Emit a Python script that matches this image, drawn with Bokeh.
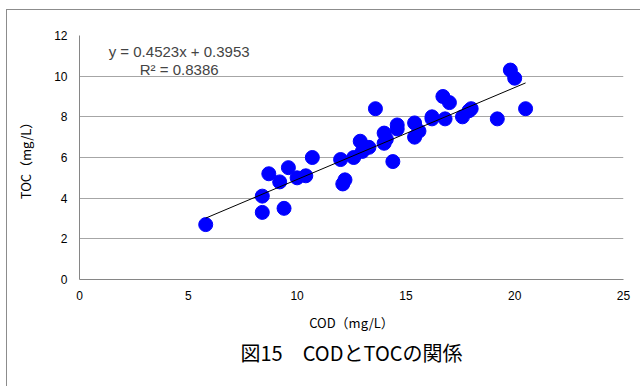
from bokeh.plotting import figure
from bokeh.models import ColumnDataSource, Label, Title, FixedTicker, Range1d
from bokeh.embed import file_html
from bokeh.resources import INLINE

# COD (mg/L) vs TOC (mg/L)
cod = [5.8, 8.4, 8.4, 9.4, 8.7, 9.2, 9.6, 10.0, 10.4, 10.7,
       12.0, 12.1, 12.2, 12.6, 12.9, 13.0, 13.3, 13.6, 14.0, 14.0,
       14.1, 14.4, 14.6, 14.6, 15.4, 15.4, 15.6, 16.2, 16.2, 16.7,
       17.0, 16.8, 17.6, 17.9, 18.0, 19.2, 19.8, 20.0, 20.5]
toc = [2.7, 4.1, 3.3, 3.5, 5.2, 4.8, 5.5, 5.0, 5.1, 6.0,
       5.9, 4.7, 4.9, 6.0, 6.8, 6.3, 6.5, 8.4, 7.2, 6.7,
       6.9, 5.8, 7.6, 7.4, 7.7, 7.0, 7.3, 7.9, 8.0, 9.0,
       8.7, 7.9, 8.0, 8.3, 8.4, 7.9, 10.3, 9.9, 8.4]

slope = 0.4523
intercept = 0.3953
r2 = 0.8386

x_ticks = [0, 5, 10, 15, 20, 25]
y_ticks = [0, 2, 4, 6, 8, 10, 12]

title_text = "図15　CODとTOCの関係"
x_label = "COD（mg/L）"
y_label = "TOC（mg/L）"

JP = "Noto Sans CJK JP"
LAT = "Liberation Sans"

p = figure(width=634, height=377, output_backend="svg", toolbar_location=None,
           x_range=Range1d(0, 25), y_range=Range1d(0, 12),
           min_border_left=72, min_border_right=18, min_border_top=25, min_border_bottom=108)
p.margin = (9, 0, 0, 6)
p.styles = {"border-left": "1px solid #8c8c8c", "border-top": "1px solid #8c8c8c"}
p.outline_line_color = None
p.background_fill_color = "white"
p.border_fill_color = "white"

src = ColumnDataSource(dict(x=cod, y=toc))
p.scatter("x", "y", source=src, size=14, color="#0000FF")

xs = [min(cod), max(cod)]
ys = [slope * v + intercept for v in xs]
p.line(xs, ys, line_color="black", line_width=1)

# axes
p.xaxis.ticker = FixedTicker(ticks=x_ticks)
p.yaxis.ticker = FixedTicker(ticks=y_ticks)
for ax in (p.xaxis[0], p.yaxis[0]):
    ax.major_tick_in = 0
    ax.major_tick_out = 0
    ax.minor_tick_in = 0
    ax.minor_tick_out = 0
    ax.major_label_text_font = LAT
    ax.major_label_text_font_size = "12px"
    ax.major_label_text_color = "black"
    ax.axis_label_text_font = JP
    ax.axis_label_text_font_size = "13px"
    ax.axis_label_text_font_style = "normal"
    ax.axis_label_text_color = "black"
    ax.axis_line_color = "#868686"
p.xaxis.axis_label = x_label
p.yaxis.axis_label = y_label
p.xaxis.major_label_standoff = 11
p.xaxis.axis_label_standoff = 10
p.yaxis.major_label_standoff = 12
p.yaxis.axis_label_standoff = 16

p.xgrid.grid_line_color = None
p.ygrid.grid_line_color = "#a6a6a6"
p.ygrid.grid_line_width = 1

# equation labels
p.add_layout(Label(x=4.58, y=11.21, text=f"y = {slope}x + {intercept}", text_align="center",
                   text_font=LAT, text_font_size="15px", text_baseline="middle"))
p.add_layout(Label(x=4.58, y=10.31, text=f"R² = {r2}", text_align="center",
                   text_font=LAT, text_font_size="15px", text_baseline="middle"))

# title below
t = Title(text=title_text, align="center", text_font=JP, text_font_size="20px",
          text_font_style="normal", text_color="black", standoff=3)
p.add_layout(t, "below")

open("out.html", "w").write(file_html(p, INLINE))
